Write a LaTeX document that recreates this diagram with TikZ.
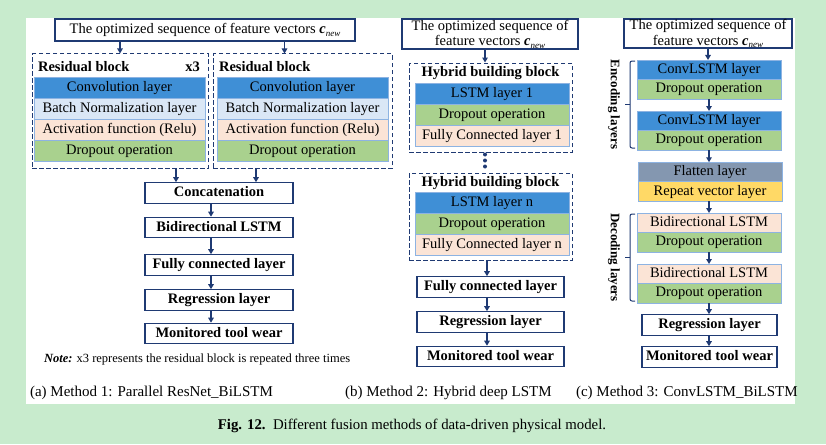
\documentclass[tikz,border=0pt]{standalone}
\usepackage{fontspec}
\setmainfont{Liberation Serif}
\usetikzlibrary{arrows.meta,positioning}

\definecolor{bggreen}{HTML}{C8EBCD}
\definecolor{navy}{HTML}{1F3A73}
\definecolor{laybd}{HTML}{8DB3E2}
\definecolor{convblue}{HTML}{3F8FD6}
\definecolor{bnblue}{HTML}{DAE7F6}
\definecolor{peach}{HTML}{FBE4D6}
\definecolor{dropgreen}{HTML}{A9D18E}
\definecolor{flatgray}{HTML}{8497B0}
\definecolor{repyellow}{HTML}{FFD966}

\newcommand{\cnew}{\textbf{\textit{c}}\raisebox{-2.5pt}{\fontsize{9}{9}\selectfont\itshape new}}

\tikzset{
  lay/.style={draw=laybd, line width=.6pt, inner sep=0pt, outer sep=0pt, text height=10pt, text depth=3pt},
  la/.style={lay, minimum width=171pt, minimum height=21pt},
  lb/.style={lay, minimum width=154pt, minimum height=21pt},
  lc/.style={lay, minimum width=144pt, minimum height=19.5pt},
  blk/.style={draw=navy, line width=1.1pt, inner sep=0pt, font=\bfseries, minimum height=20.5pt, text height=10pt, text depth=3pt},
  inbox/.style={draw=navy, line width=1.1pt, inner sep=0pt},
  dbox/.style={draw=navy, line width=1pt, dash pattern=on 4.5pt off 2.5pt, inner sep=0pt},
  arr/.style={draw=navy, line width=1.4pt, -{Triangle[length=5pt,width=5.5pt]}}
}

\begin{document}
\fontsize{14.5}{17}\selectfont
\begin{tikzpicture}[x=1pt,y=-1pt]

\fill[bggreen] (0,0) rectangle (826,444);
\fill[white] (26,18) rectangle (795,404);
\useasboundingbox (0,0) rectangle (826,444);

% (a)
\node[inbox, minimum width=300pt, minimum height=22pt] (in1) at (205,30) {The optimized sequence of feature vectors \cnew};

\node[dbox, minimum width=176pt, minimum height=114pt] (rb1) at (120,111) {};
\node[dbox, minimum width=179pt, minimum height=114pt] (rb2) at (302.5,111) {};
\node[font=\bfseries, anchor=west] (rbt1) at (33,67) {Residual block};
\node[font=\bfseries, anchor=east] (rx) at (205,67) {x3};
\node[font=\bfseries, anchor=west] (rbt2) at (214,67) {Residual block};

\node[la, fill=convblue] (cv1) at (119.5,87.5) {Convolution layer};
\node[la, fill=bnblue, below=0pt of cv1] (bn1) {Batch Normalization layer};
\node[la, fill=peach, below=0pt of bn1] (ac1) {Activation function (Relu)};
\node[la, fill=dropgreen, below=0pt of ac1] (dr1) {Dropout operation};

\node[la, fill=convblue] (cv2) at (302.5,87.5) {Convolution layer};
\node[la, fill=bnblue, below=0pt of cv2] (bn2) {Batch Normalization layer};
\node[la, fill=peach, below=0pt of bn2] (ac2) {Activation function (Relu)};
\node[la, fill=dropgreen, below=0pt of ac2] (dr2) {Dropout operation};

\draw[arr] (in1.south -| rb1.north) -- (rb1.north);
\draw[arr] ([xshift=-18pt]rb2.north |- in1.south) -- ([xshift=-18pt]rb2.north);

\node[blk, minimum width=148pt] (cat) at (219,193) {Concatenation};
\node[blk, minimum width=148pt] (bil) at (219,227.5) {Bidirectional LSTM};
\node[blk, minimum width=148pt] (fc1) at (219,265) {Fully connected layer};
\node[blk, minimum width=148pt] (reg1) at (219,300) {Regression layer};
\node[blk, minimum width=148pt] (mon1) at (219,333.5) {Monitored tool wear};

\draw[arr] ([xshift=56pt]rb1.south) -- ([xshift=56pt]rb1.south |- cat.north);
\draw[arr] ([xshift=-46.5pt]rb2.south) -- ([xshift=-46.5pt]rb2.south |- cat.north);
\draw[arr] ([xshift=-8pt]cat.south) -- ([xshift=-8pt]bil.north);
\draw[arr] ([xshift=-8pt]bil.south) -- ([xshift=-8pt]fc1.north);
\draw[arr] ([xshift=-8pt]fc1.south) -- ([xshift=-8pt]reg1.north);
\draw[arr] ([xshift=-8pt]reg1.south) -- ([xshift=-8pt]mon1.north);

\node[anchor=west, font=\fontsize{12.5}{14}\selectfont] (note) at (39,359) {\textbf{\textit{Note:}} x3 represents the residual block is repeated three times};

% (b)
\node[inbox, minimum width=176pt, minimum height=30pt, align=center, font=\fontsize{14.5}{15.5}\selectfont] (in2) at (490,34) {The optimized sequence of\\ feature vectors \cnew};

\node[dbox, minimum width=163pt, minimum height=89pt] (hb1) at (490.5,107.5) {};
\node[font=\bfseries] (hbt1) at (490.5,73) {Hybrid building block};
\node[lb, fill=convblue] (ls1) at (492,93.5) {LSTM layer 1};
\node[lb, fill=dropgreen, below=0pt of ls1] (hd1) {Dropout operation};
\node[lb, fill=peach, below=0pt of hd1] (hf1) {Fully Connected layer 1};

\node[dbox, minimum width=163pt, minimum height=87pt] (hb2) at (490.5,216.5) {};
\node[font=\bfseries] (hbt2) at (490.5,183) {Hybrid building block};
\node[lb, fill=convblue] (lsn) at (492,202.5) {LSTM layer n};
\node[lb, fill=dropgreen, below=0pt of lsn] (hdn) {Dropout operation};
\node[lb, fill=peach, below=0pt of hdn] (hfn) {Fully Connected layer n};

\draw[arr] ([xshift=-5pt]in2.south) -- ([xshift=-5.5pt]hb1.north);
\draw[navy, line width=4pt, line cap=round, dash pattern=on 0pt off 6pt] ([xshift=-5.5pt,yshift=-2pt]hb1.south) -- ([xshift=-5.5pt,yshift=3pt]hb2.north);

\node[blk, minimum width=147pt] (fc2) at (490.5,287) {Fully connected layer};
\node[blk, minimum width=147pt] (reg2) at (490.5,322) {Regression layer};
\node[blk, minimum width=147pt] (mon2) at (490.5,356.5) {Monitored tool wear};

\draw[arr] ([xshift=-3.5pt]hb2.south) -- ([xshift=-3.5pt]fc2.north);
\draw[arr] ([xshift=-3.5pt]fc2.south) -- ([xshift=-3.5pt]reg2.north);
\draw[arr] ([xshift=-3.5pt]reg2.south) -- ([xshift=-3.5pt]mon2.north);

% (c)
\node[inbox, minimum width=168pt, minimum height=29pt, align=center, font=\fontsize{14.5}{15.5}\selectfont] (in3) at (708,33.5) {The optimized sequence of\\ feature vectors \cnew};

\node[lc, fill=convblue] (cl1) at (709,69.75) {ConvLSTM layer};
\node[lc, fill=dropgreen, below=0pt of cl1] (cd1) {Dropout operation};
\node[lc, fill=convblue] (cl2) at (709,120.75) {ConvLSTM layer};
\node[lc, fill=dropgreen, below=0pt of cl2] (cd2) {Dropout operation};
\node[lc, fill=flatgray] (fl) at (710,172) {Flatten layer};
\node[lc, fill=repyellow, below=0pt of fl] (rp) {Repeat vector layer};
\node[lc, fill=peach] (bl1) at (709,222.75) {Bidirectional LSTM};
\node[lc, fill=dropgreen, below=0pt of bl1] (cd3) {Dropout operation};
\node[lc, fill=peach] (bl2) at (709,273.75) {Bidirectional LSTM};
\node[lc, fill=dropgreen, below=0pt of bl2] (cd4) {Dropout operation};

\node[blk, minimum width=135pt] (reg3) at (709.5,325) {Regression layer};
\node[blk, minimum width=135pt] (mon3) at (709.5,357) {Monitored tool wear};

\draw[arr] (in3.south) -- (in3.south |- cl1.north);
\draw[arr] (cd1.south) -- (cl2.north);
\draw[arr] (cd2.south) -- (cd2.south |- fl.north);
\draw[arr] (rp.south -| cd2.south) -- (bl1.north);
\draw[arr] (cd3.south) -- (bl2.north);
\draw[arr] (cd4.south) -- (cd4.south |- reg3.north);
\draw[arr] (reg3.south -| cd4.south) -- (cd4.south |- mon3.north);

\draw[navy, line width=1pt, rounded corners=2pt] (635,61) -- (630,61) -- (630,148) -- (635,148);
\draw[navy, line width=1pt] (630,104.5) -- (625,104.5);
\draw[navy, line width=1pt, rounded corners=2pt] (635,214) -- (630,214) -- (630,301) -- (635,301);
\draw[navy, line width=1pt] (630,257.5) -- (625,257.5);
\node[rotate=-90, font=\fontsize{13}{15}\selectfont\bfseries] (enc) at (614,104.5) {Encoding layers};
\node[rotate=-90, font=\fontsize{13}{15}\selectfont\bfseries] (dec) at (614,257.5) {Decoding layers};

% captions
\node[anchor=west, font=\fontsize{15}{17}\selectfont] (capa) at (25,393) {(a) Method 1: Parallel ResNet\_BiLSTM};
\node[anchor=west, font=\fontsize{15}{17}\selectfont] (capb) at (340,393) {(b) Method 2: Hybrid deep LSTM};
\node[anchor=west, font=\fontsize{15}{17}\selectfont] (capc) at (571,393) {(c) Method 3: ConvLSTM\_BiLSTM};
\node[font=\fontsize{14.8}{17}\selectfont] (fig) at (412,426) {\textbf{Fig. 12.}\ \ Different fusion methods of data-driven physical model.};

\end{tikzpicture}
\end{document}
